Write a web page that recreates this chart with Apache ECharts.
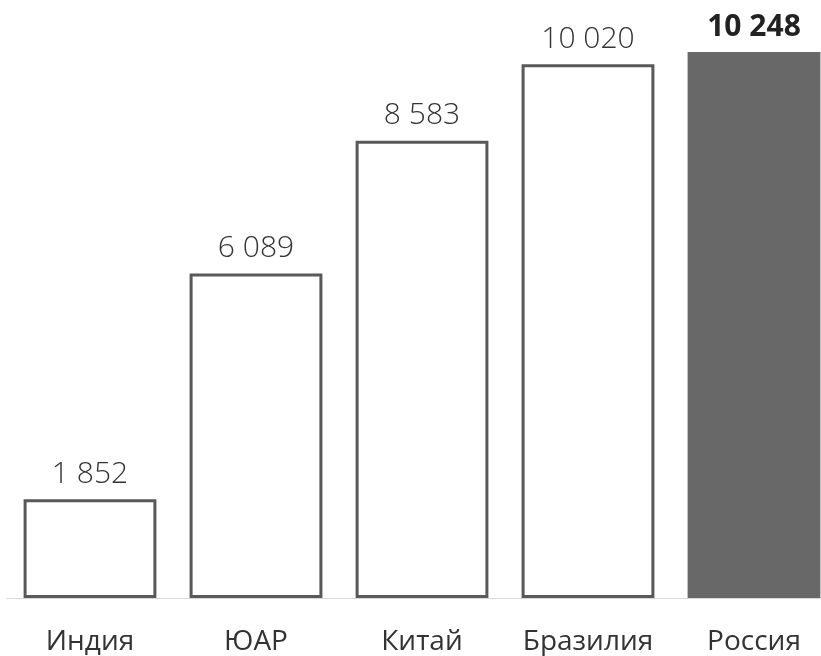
<!DOCTYPE html>
<html>
<head>
<meta charset="utf-8">
<script src="https://cdn.jsdelivr.net/npm/echarts@6/dist/echarts.min.js"></script>
<style>
  html, body { margin: 0; padding: 0; background: #fff; }
  #chart { width: 821px; height: 656px; }
</style>
</head>
<body>
<div id="chart"></div>
<script>
const countries = ['Индия', 'ЮАР', 'Китай', 'Бразилия', 'Россия'];
const values = [1852, 6089, 8583, 10020, 10248];
const highlightIndex = 4;

const fmt = (v) => String(v).replace(/\B(?=(\d{3})+(?!\d))/g, ' ');

const chart = echarts.init(document.getElementById('chart'));

const option = {
  animation: false,
  grid: { left: 7, right: -16, top: 12, bottom: 58, outerBoundsMode: 'none', containLabel: false },
  xAxis: {
    type: 'category',
    data: countries,
    axisTick: { show: false },
    axisLine: { lineStyle: { color: '#d9d9d9', width: 1 } },
    axisLabel: {
      margin: 30,
      fontSize: 28,
      fontFamily: 'Open Sans',
      color: '#333',
      interval: 0,
    },
  },
  yAxis: {
    type: 'value',
    min: 0,
    max: 11000,
    show: false,
    splitLine: { show: false },
  },
  series: [
    {
      type: 'bar',
      barCategoryGap: '20%',
      data: values.map((v, i) =>
        i === highlightIndex
          ? {
              value: v,
              itemStyle: { color: '#686868', borderWidth: 0 },
              label: { fontWeight: 'bold', color: '#222' },
            }
          : v
      ),
      itemStyle: {
        color: '#fff',
        borderColor: '#595959',
        borderWidth: 3,
      },
      label: {
        show: true,
        position: 'top',
        distance: 10,
        fontSize: 30,
        fontWeight: 300,
        fontFamily: 'Open Sans',
        color: '#333',
        formatter: (p) => fmt(p.value),
      },
    },
  ],
};

chart.setOption(option);
</script>
</body>
</html>
